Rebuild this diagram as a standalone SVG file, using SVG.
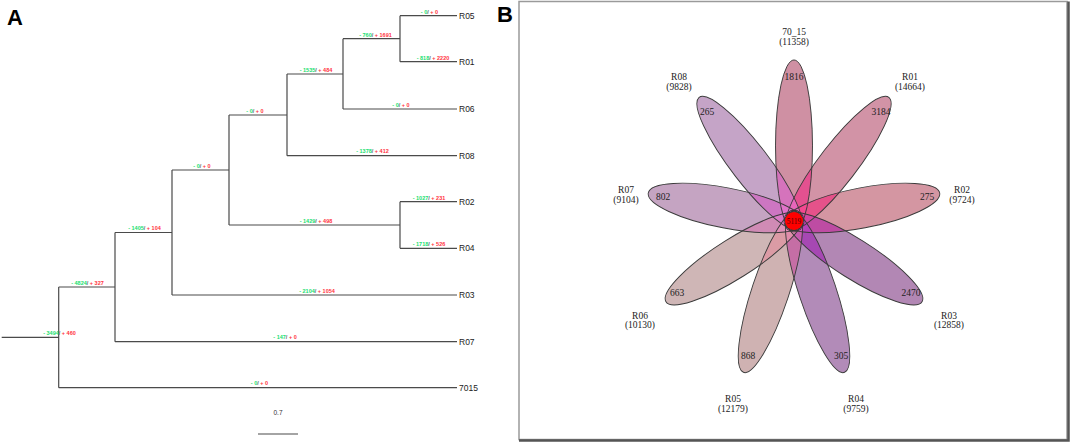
<svg xmlns="http://www.w3.org/2000/svg" width="1072" height="444" viewBox="0 0 1072 444">
<style>
.br{fill:none;stroke:#4a4a4a;stroke-width:1.2}
.leaf{font-family:"Liberation Sans",Arial,sans-serif;font-size:8.5px;fill:#222}
.bl{font-family:"Liberation Sans",Arial,sans-serif;font-size:5.5px;font-weight:bold;text-anchor:middle}
.g{fill:#19e070}.r{fill:#ff3340}.s{fill:#666}
.pl{font-family:"Liberation Sans",Arial,sans-serif;font-size:22px;font-weight:bold;fill:#000}
.vl{font-family:"Liberation Serif","Times New Roman",serif;font-size:9.5px;fill:#222;text-anchor:middle}
.pf{fill-opacity:0.5;stroke:none}
.ov{opacity:0.6;stroke:none}
.po{fill:none;stroke:#3a3a3a;stroke-width:0.9;vector-effect:non-scaling-stroke}
</style>
<defs>
<ellipse id="e" cx="69" cy="0" rx="79" ry="18.5"/>
<clipPath id="c0"><use href="#e" transform="rotate(-90)"/></clipPath>
<clipPath id="c1"><use href="#e" transform="rotate(-50)"/></clipPath>
<clipPath id="c2"><use href="#e" transform="rotate(-10)"/></clipPath>
<clipPath id="c3"><use href="#e" transform="rotate(30)"/></clipPath>
<clipPath id="c4"><use href="#e" transform="rotate(70)"/></clipPath>
<clipPath id="c5"><use href="#e" transform="rotate(110)"/></clipPath>
<clipPath id="c6"><use href="#e" transform="rotate(150)"/></clipPath>
<clipPath id="c7"><use href="#e" transform="rotate(190)"/></clipPath>
<clipPath id="c8"><use href="#e" transform="rotate(230)"/></clipPath>
</defs>
<rect width="1072" height="444" fill="#fff"/>
<text class="pl" x="7" y="25">A</text>
<text class="pl" x="497" y="22">B</text>

<g id="connectors">
<path class="br" d="M400,15.7H457M400,61.7H457M400,15.7V61.7M343,38.7H400M343,109H457M343,38.7V109M287,74H343M287,155.7H457M287,74V155.7M229,115H287M400,201.7H457M400,248.3H457M400,201.7V248.3M229,225H400M229,115V225M172,170H229M172,295H457M172,170V295M115,232.5H172M115,341.7H457M115,232.5V341.7M58.7,287H115M58.7,387.7H457M58.7,287V387.7M1.7,337.3H58.7"/>
<path class="br" d="M258,434H298"/>
</g>

<g id="branch-labels">
<text class="bl" x="429.5" y="13.5"><tspan class="g">- 0</tspan><tspan class="s">/</tspan><tspan class="r"> + 0</tspan></text>
<text class="bl" x="433" y="59.5"><tspan class="g">- 818</tspan><tspan class="s">/</tspan><tspan class="r"> + 2220</tspan></text>
<text class="bl" x="375.5" y="36.5"><tspan class="g">- 760</tspan><tspan class="s">/</tspan><tspan class="r"> + 1691</tspan></text>
<text class="bl" x="401" y="106.5"><tspan class="g">- 0</tspan><tspan class="s">/</tspan><tspan class="r"> + 0</tspan></text>
<text class="bl" x="316" y="71.5"><tspan class="g">- 1535</tspan><tspan class="s">/</tspan><tspan class="r"> + 484</tspan></text>
<text class="bl" x="372.5" y="153"><tspan class="g">- 1378</tspan><tspan class="s">/</tspan><tspan class="r"> + 412</tspan></text>
<text class="bl" x="255" y="112.5"><tspan class="g">- 0</tspan><tspan class="s">/</tspan><tspan class="r"> + 0</tspan></text>
<text class="bl" x="429" y="199.5"><tspan class="g">- 1027</tspan><tspan class="s">/</tspan><tspan class="r"> + 231</tspan></text>
<text class="bl" x="429" y="246"><tspan class="g">- 1718</tspan><tspan class="s">/</tspan><tspan class="r"> + 526</tspan></text>
<text class="bl" x="316" y="222.5"><tspan class="g">- 1429</tspan><tspan class="s">/</tspan><tspan class="r"> + 498</tspan></text>
<text class="bl" x="202" y="167.5"><tspan class="g">- 0</tspan><tspan class="s">/</tspan><tspan class="r"> + 0</tspan></text>
<text class="bl" x="144.5" y="230"><tspan class="g">- 1405</tspan><tspan class="s">/</tspan><tspan class="r"> + 104</tspan></text>
<text class="bl" x="317" y="292.5"><tspan class="g">- 2104</tspan><tspan class="s">/</tspan><tspan class="r"> + 1054</tspan></text>
<text class="bl" x="87.5" y="284.5"><tspan class="g">- 4824</tspan><tspan class="s">/</tspan><tspan class="r"> + 327</tspan></text>
<text class="bl" x="285" y="338.5"><tspan class="g">- 147</tspan><tspan class="s">/</tspan><tspan class="r"> + 0</tspan></text>
<text class="bl" x="259.5" y="384.5"><tspan class="g">- 0</tspan><tspan class="s">/</tspan><tspan class="r"> + 0</tspan></text>
<text class="bl" x="59.5" y="335"><tspan class="g">- 3494</tspan><tspan class="s">/</tspan><tspan class="r"> + 460</tspan></text>
<text class="bl" x="278" y="415" style="font-weight:normal;font-size:6.5px;fill:#333">0.7</text>
</g>

<g id="leaf-R05"><text class="leaf" x="459" y="18.7">R05</text></g>
<g id="leaf-R01"><text class="leaf" x="459" y="64.7">R01</text></g>
<g id="leaf-R06"><text class="leaf" x="459" y="112">R06</text></g>
<g id="leaf-R08"><text class="leaf" x="459" y="158.7">R08</text></g>
<g id="leaf-R02"><text class="leaf" x="459" y="204.7">R02</text></g>
<g id="leaf-R04"><text class="leaf" x="459" y="251.3">R04</text></g>
<g id="leaf-R03"><text class="leaf" x="459" y="298">R03</text></g>
<g id="leaf-R07"><text class="leaf" x="459" y="344.7">R07</text></g>
<g id="leaf-7015"><text class="leaf" x="459" y="390.7">7015</text></g>

<g id="panel-B">
<rect x="519" y="1.5" width="548" height="438" fill="none" stroke="#9a9a9a" stroke-width="1.5"/>
<path d="M519,440.5H1068.5V1.5" fill="none" stroke="#555" stroke-width="2.5"/>
<g id="petals" transform="translate(794,221) scale(1,1.088)">
<use href="#e" class="pf" fill="#9f2147" transform="rotate(-90)"/>
<use href="#e" class="pf" fill="#a5274d" transform="rotate(-50)"/>
<use href="#e" class="pf" fill="#a92d45" transform="rotate(-10)"/>
<use href="#e" class="pf" fill="#650f69" transform="rotate(30)"/>
<use href="#e" class="pf" fill="#651771" transform="rotate(70)"/>
<use href="#e" class="pf" fill="#9f6565" transform="rotate(110)"/>
<use href="#e" class="pf" fill="#a06e6e" transform="rotate(150)"/>
<use href="#e" class="pf" fill="#8c4a85" transform="rotate(190)"/>
<use href="#e" class="pf" fill="#8c4a8f" transform="rotate(230)"/>
<g clip-path="url(#c0)"><use href="#e" class="ov" fill="#ff4aa0" transform="rotate(-50)"/></g>
<g clip-path="url(#c1)"><use href="#e" class="ov" fill="#ff4a98" transform="rotate(-10)"/></g>
<g clip-path="url(#c2)"><use href="#e" class="ov" fill="#d448b8" transform="rotate(30)"/></g>
<g clip-path="url(#c3)"><use href="#e" class="ov" fill="#b844c8" transform="rotate(70)"/></g>
<g clip-path="url(#c4)"><use href="#e" class="ov" fill="#d868b4" transform="rotate(110)"/></g>
<g clip-path="url(#c5)"><use href="#e" class="ov" fill="#f4a4b4" transform="rotate(150)"/></g>
<g clip-path="url(#c6)"><use href="#e" class="ov" fill="#e892c4" transform="rotate(190)"/></g>
<g clip-path="url(#c7)"><use href="#e" class="ov" fill="#e676d4" transform="rotate(230)"/></g>
<g clip-path="url(#c8)"><use href="#e" class="ov" fill="#f078d4" transform="rotate(-90)"/></g>
<use href="#e" class="po" transform="rotate(-90)"/>
<use href="#e" class="po" transform="rotate(-50)"/>
<use href="#e" class="po" transform="rotate(-10)"/>
<use href="#e" class="po" transform="rotate(30)"/>
<use href="#e" class="po" transform="rotate(70)"/>
<use href="#e" class="po" transform="rotate(110)"/>
<use href="#e" class="po" transform="rotate(150)"/>
<use href="#e" class="po" transform="rotate(190)"/>
<use href="#e" class="po" transform="rotate(230)"/>
</g>
<g id="core"><circle cx="794" cy="221" r="9" fill="#ff0000"/><text class="vl" x="794" y="224" style="font-size:7.5px;fill:#500">5119</text></g>
<g id="set-70_15"><text class="vl" x="794" y="34.5">70_15</text><text class="vl" x="794" y="44.5">(11358)</text><text class="vl" x="794" y="79.5">1816</text></g>
<g id="set-R08"><text class="vl" x="679" y="79.5">R08</text><text class="vl" x="679" y="89.5">(9828)</text><text class="vl" x="707" y="114.5">265</text></g>
<g id="set-R01"><text class="vl" x="910" y="79.5">R01</text><text class="vl" x="910" y="89.5">(14664)</text><text class="vl" x="881" y="114.5">3184</text></g>
<g id="set-R07"><text class="vl" x="626" y="192.5">R07</text><text class="vl" x="626" y="202.5">(9104)</text><text class="vl" x="663" y="199.5">802</text></g>
<g id="set-R02"><text class="vl" x="962" y="192.5">R02</text><text class="vl" x="962" y="202.5">(9724)</text><text class="vl" x="927" y="199.5">275</text></g>
<g id="set-R06"><text class="vl" x="640" y="318.5">R06</text><text class="vl" x="640" y="328">(10130)</text><text class="vl" x="677" y="295.5">663</text></g>
<g id="set-R03"><text class="vl" x="949" y="318.5">R03</text><text class="vl" x="949" y="328">(12858)</text><text class="vl" x="911" y="295.5">2470</text></g>
<g id="set-R05"><text class="vl" x="733" y="401.5">R05</text><text class="vl" x="733" y="411.5">(12179)</text><text class="vl" x="748" y="358.5">868</text></g>
<g id="set-R04"><text class="vl" x="856" y="401.5">R04</text><text class="vl" x="856" y="411.5">(9759)</text><text class="vl" x="841" y="358.5">305</text></g>
</g>
</svg>
